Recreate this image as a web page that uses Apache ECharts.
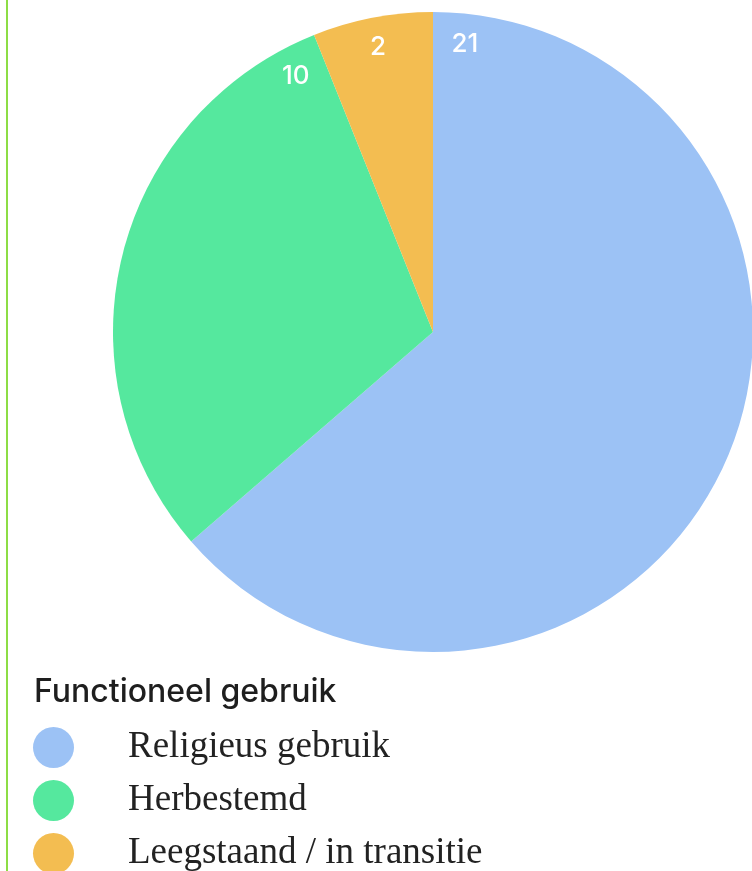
<!DOCTYPE html>
<html>
<head>
<meta charset="utf-8">
<script src="https://cdn.jsdelivr.net/npm/echarts@6/dist/echarts.min.js"></script>
<style>
    html, body { margin: 0; padding: 0; background: #fff; }
    #chart { width: 752px; height: 871px; }
</style>
</head>
<body>
<div id="chart"></div>
<script>
// data
var categories = ["Religieus gebruik", "Herbestemd", "Leegstaand / in transitie"];
var values = [21, 10, 2];
var colors = ["#9cc2f5", "#55e89e", "#f3bd51"];

var cx = 433, cy = 332, radius = 320;

// label angle: point of the slice closest to 12 o'clock, a bit inside
function labelAngles() {
    var total = values.reduce(function (a, b) { return a + b; }, 0);
    var acc = 0, pad = 6.3, out = [];
    values.forEach(function (v) {
        var start = acc / total * 360, end = (acc + v) / total * 360;
        acc += v;
        if (end - start < 4 * pad) {
            out.push((start + end) / 2);
            return;
        }
        var lo = start + pad, hi = end - pad;
        var dLo = Math.min(lo, 360 - lo), dHi = Math.min(hi, 360 - hi);
        out.push(dLo <= dHi ? lo : hi);
    });
    return out;
}
var angles = labelAngles();

var chart = echarts.init(document.getElementById("chart"));
chart.setOption({
    animation: false,
    color: colors,
    title: {
        text: "Functioneel gebruik",
        left: 34,
        top: 676,
        padding: 0,
        textStyle: {
            fontFamily: "Inter",
            fontWeight: 500,
            fontSize: 32,
            color: "#1e1e1e"
        }
    },
    legend: {
        orient: "vertical",
        left: 33,
        top: 727,
        height: 160,
        padding: 0,
        itemWidth: 41,
        itemHeight: 41,
        itemGap: 12,
        icon: "circle",
        selectedMode: false,
        data: categories,
        textStyle: {
            fontFamily: "Liberation Serif",
            fontSize: 37,
            lineHeight: 41,
            color: "#222",
            padding: [0, 0, 0, 49]
        }
    },
    graphic: [
        {
            type: "line",
            shape: { x1: 7, y1: 0, x2: 7, y2: 871 },
            style: { stroke: "#8ddd45", lineWidth: 2 }
        }
    ],
    series: [
        {
            type: "pie",
            center: [cx, cy],
            radius: radius,
            startAngle: 90,
            clockwise: true,
            emphasis: { disabled: true },
            itemStyle: { borderWidth: 0 },
            label: {
                show: true,
                position: "inside",
                formatter: "{c}",
                color: "#fff",
                fontFamily: "Inter",
                fontWeight: 500,
                fontSize: 26
            },
            labelLine: { show: false },
            labelLayout: function (params) {
                var a = angles[params.dataIndex] * Math.PI / 180;
                var r = 291;
                return {
                    x: cx + r * Math.sin(a),
                    y: cy - r * Math.cos(a) + 1,
                    align: "center",
                    verticalAlign: "middle"
                };
            },
            data: categories.map(function (name, i) {
                return { name: name, value: values[i] };
            })
        }
    ]
});
</script>
</body>
</html>
